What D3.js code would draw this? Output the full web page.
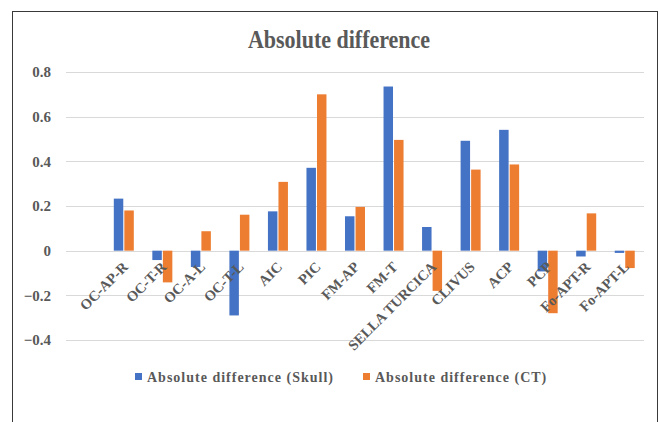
<!DOCTYPE html>
<html>
<head>
<meta charset="utf-8">
<script src="https://cdn.jsdelivr.net/npm/d3@7/dist/d3.min.js"></script>
<style>
  html, body { margin: 0; padding: 0; background: #fff; }
  svg { display: block; }
  text { font-family: "Liberation Serif", "Times New Roman", serif; font-weight: bold; fill: #595959; }
</style>
</head>
<body>
<svg id="chart" width="659" height="422"></svg>
<script>
// Landmark differences per measurement
const categories = ["OC-AP-R", "OC-T-R", "OC-A-L", "OC-T-L", "AIC", "PIC", "FM-AP", "FM-T",
  "SELLA TURCICA", "CLIVUS", "ACP", "PCP", "Fo-APT-R", "Fo-APT-L"];
const skull = [0.233, -0.042, -0.073, -0.29, 0.176, 0.371, 0.154, 0.735,
  0.106, 0.492, 0.541, -0.093, -0.026, -0.01];
const ct = [0.18, -0.142, 0.087, 0.161, 0.308, 0.70, 0.196, 0.496,
  -0.18, 0.363, 0.386, -0.28, 0.167, -0.078];
const yTicks = [-0.4, -0.2, 0, 0.2, 0.4, 0.6, 0.8];
const seriesNames = ["Absolute difference (Skull)", "Absolute difference (CT)"];
const colors = ["#4472C4", "#ED7D31"];

const svg = d3.select("#chart");

// chart frame
svg.append("rect")
  .attr("x", 12.5).attr("y", 11.5)
  .attr("width", 645).attr("height", 430)
  .attr("fill", "#fff").attr("stroke", "#3a3a3a").attr("stroke-width", 1);

const gridX0 = 66, gridX1 = 644;
const step = (gridX1 - gridX0) / (categories.length + 1);

const y = d3.scaleLinear().domain([-0.4, 0.8]).range([340, 72]);
const x = d3.scaleBand().domain(categories).range([gridX0 + step, gridX1]).paddingInner(0).paddingOuter(0);
const xs = d3.scaleBand().domain([0, 1]).range([0, 20]).paddingInner(0.1);

// title
svg.append("text")
  .attr("transform", "translate(339,48) scale(1,1.12)")
  .attr("text-anchor", "middle")
  .style("font-size", "22px")
  .text("Absolute difference");

// gridlines
svg.append("g").selectAll("line").data(yTicks).join("line")
  .attr("x1", gridX0).attr("x2", gridX1)
  .attr("y1", d => Math.round(y(d)) + 0.5).attr("y2", d => Math.round(y(d)) + 0.5)
  .attr("stroke", "#d9d9d9").attr("stroke-width", 1);

// y axis labels
const yAxis = d3.axisLeft(y).tickValues(yTicks).tickSize(0).tickPadding(0)
  .tickFormat(d => d === 0 ? "0" : d3.format(".1f")(d));
const ya = svg.append("g").attr("transform", "translate(51,0)").call(yAxis);
ya.select(".domain").remove();
ya.selectAll("text").style("font-size", "15px").style("font-family", null).attr("fill", "#595959");

// bars
const groups = svg.append("g").selectAll("g").data(categories).join("g")
  .attr("transform", d => `translate(${x(d) + x.bandwidth() / 2 - 10},0)`);
groups.selectAll("rect")
  .data((d, i) => [skull[i], ct[i]])
  .join("rect")
  .attr("x", (v, j) => xs(j))
  .attr("width", xs.bandwidth())
  .attr("y", v => Math.min(y(v), y(0)))
  .attr("height", v => Math.abs(y(v) - y(0)))
  .attr("fill", (v, j) => colors[j]);

// category labels, rotated
svg.append("g").selectAll("text").data(categories).join("text")
  .attr("transform", d => `translate(${x(d) + x.bandwidth() / 2 - 2},${y(0) + 10}) rotate(-45)`)
  .attr("text-anchor", "end")
  .attr("dy", "0.7em")
  .style("font-size", "14.5px")
  .text(d => d);

// legend
const legendX = [135, 363];
const lg = svg.append("g").selectAll("g").data(seriesNames).join("g")
  .attr("transform", (d, i) => `translate(${legendX[i]},377)`);
lg.append("rect").attr("x", 0).attr("y", -4).attr("width", 7).attr("height", 7)
  .attr("fill", (d, i) => colors[i]);
lg.append("text").attr("x", 12).attr("y", 5)
  .style("font-size", "14px").style("letter-spacing", "1px")
  .text(d => d);
</script>
</body>
</html>
